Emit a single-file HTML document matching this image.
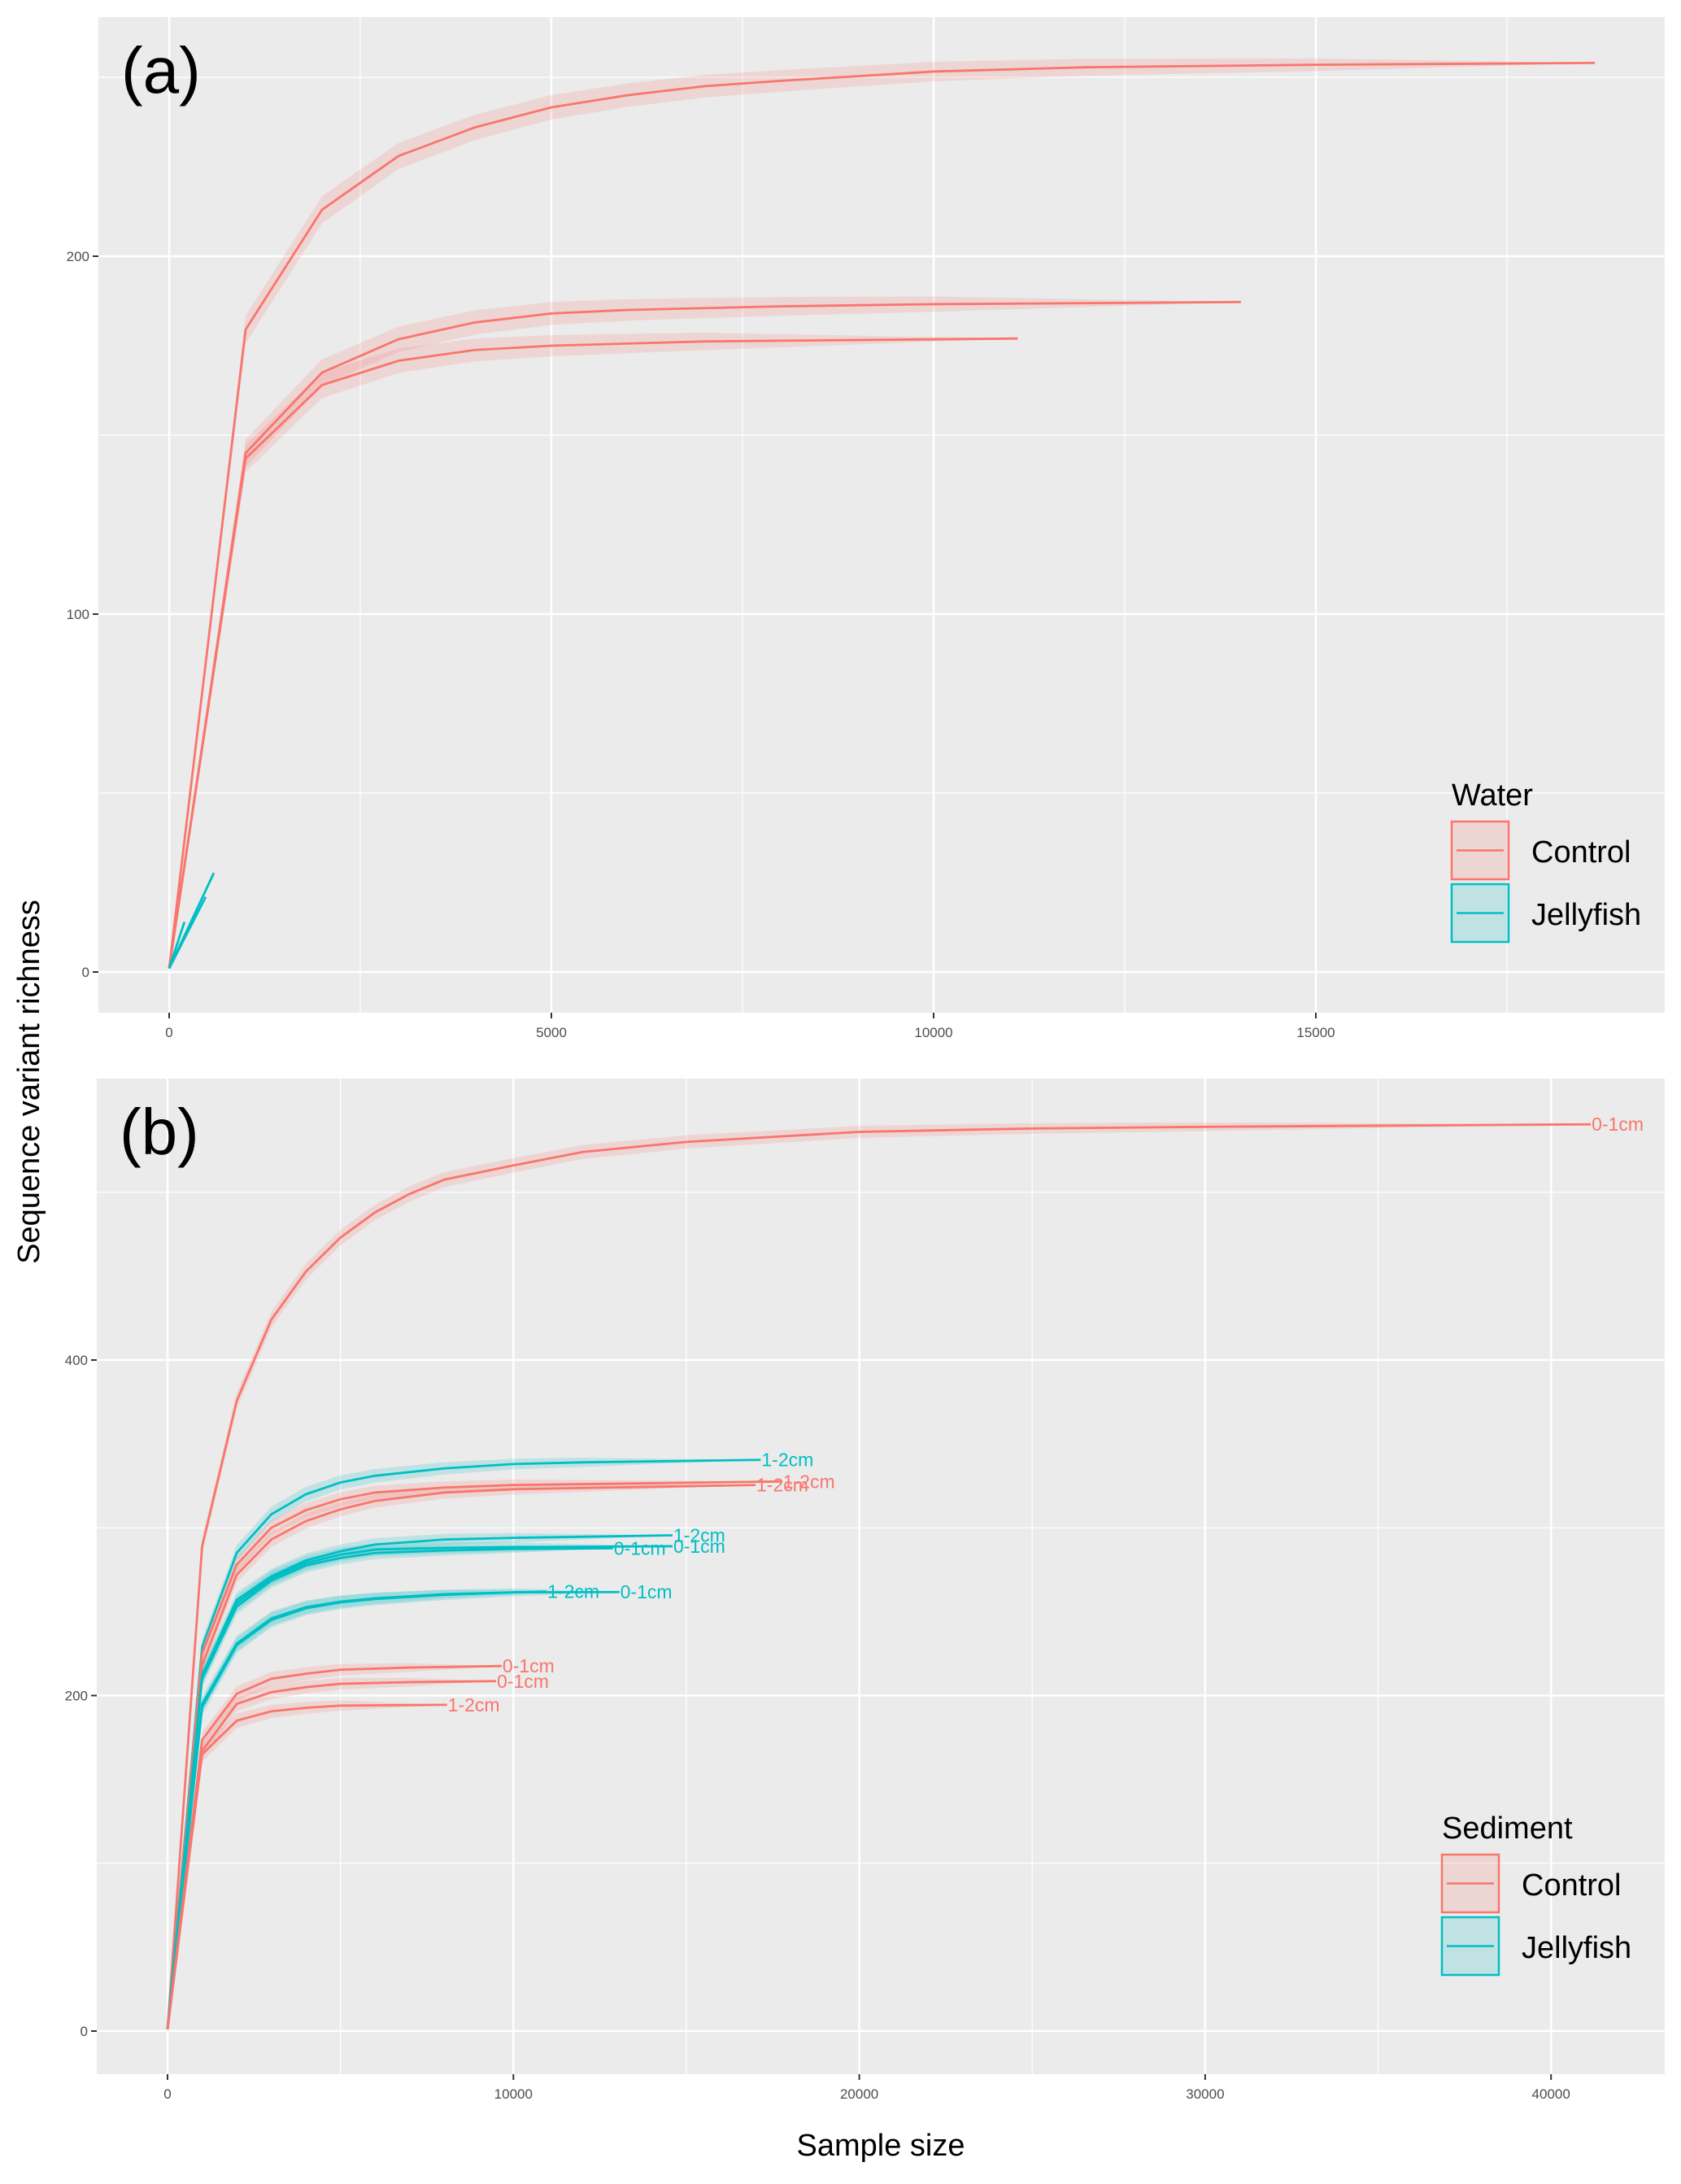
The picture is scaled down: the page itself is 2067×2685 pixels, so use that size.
<!DOCTYPE html>
<html><head><meta charset="utf-8"><style>
html,body{margin:0;padding:0;background:#fff}
svg{display:block;font-family:"Liberation Sans",sans-serif}
</style></head><body>
<svg id="chart" width="2067" height="2685" viewBox="0 0 2067 2685" xmlns="http://www.w3.org/2000/svg"></svg>
<script>
// ---- Panel (a) Water data ----
const waterGroups = ["Control","Control","Control","Jellyfish","Jellyfish","Jellyfish"];
const waterX = [
 [0,1000,2000,3000,4000,5000,6000,7000,8000,10000,12000,15000,18650],
 [0,1000,2000,3000,4000,5000,6000,8000,10000,14020],
 [0,1000,2000,3000,4000,5000,7000,11100],
 [0,585],[0,478],[0,200]
];
const waterY = [
 [1,179.5,213,228,236,241.6,245,247.5,249,251.6,252.8,253.5,254],
 [1,145,167.5,176.8,181.5,184,185,186,186.6,187.2],
 [1,143.5,164,170.8,173.8,175,176.2,177],
 [1,27.7],[1,21],[1,14]
];
// ---- Panel (b) Sediment data ----
const sedGroups = ["Control","Jellyfish","Control","Control","Jellyfish","Jellyfish","Jellyfish","Jellyfish","Jellyfish","Control","Control","Control"];
const sedLabels = ["0-1cm","1-2cm","1-2cm","1-2cm","1-2cm","0-1cm","0-1cm","1-2cm","0-1cm","0-1cm","0-1cm","1-2cm"];
const sedX = [
 [0,1000,2000,3000,4000,5000,6000,7000,8000,10000,12000,15000,20000,25000,30000,41150],
 [0,1000,2000,3000,4000,5000,6000,8000,10000,12000,17150],
 [0,1000,2000,3000,4000,5000,6000,8000,10000,17770],
 [0,1000,2000,3000,4000,5000,6000,8000,10000,17000],
 [0,1000,2000,3000,4000,5000,6000,8000,10000,14600],
 [0,1000,2000,3000,4000,5000,6000,8000,10000,12880],
 [0,1000,2000,3000,4000,5000,6000,8000,10000,14600],
 [0,1000,2000,3000,4000,5000,6000,8000,10000,10960],
 [0,1000,2000,3000,4000,5000,6000,8000,10000,13065],
 [0,1000,2000,3000,4000,5000,7000,9660],
 [0,1000,2000,3000,4000,5000,7000,9500],
 [0,1000,2000,3000,4000,5000,8080]
];
const sedY = [
 [1,289,375.6,424,452.7,473,488,499,507.5,516,524,530,536,538,539,540.5],
 [1,229,285,308,320,327,331,335.4,338,339,340.5],
 [1,225,278,300,310.5,317,321,324,325.5,327.6],
 [1,218,272,293,304,311,316,321,323,325.5],
 [1,212,257,271,280.5,286,290,293,294,295.5],
 [1,210,253,268.5,277.5,282,285,286.5,287.4,287.8],
 [1,211,255,270,279,284,287,288,288.5,289],
 [1,195,231,246,252.7,256,258,260.4,261.5,262],
 [1,193,230,245,252,255.5,257.5,260,261.5,261.7],
 [1,173.5,201,210,213,215.4,216.7,217.6],
 [1,167,195,202,205,207,208,208.6],
 [1,165,185,190.6,192.7,194,194.5]
];
const waterXTicks=[0,5000,10000,15000], waterYTicks=[0,100,200];
const sedXTicks=[0,10000,20000,30000,40000], sedYTicks=[0,200,400];

const NS="http://www.w3.org/2000/svg";
const svg=document.getElementById('chart');
const COL={Control:"#F8766D",Jellyfish:"#00BFC4"};
function mk(tag,attrs,parent){const e=document.createElementNS(NS,tag);for(const k in attrs)e.setAttribute(k,attrs[k]);(parent||svg).appendChild(e);return e;}

function panel(cfg){
  const g=mk('g',{});
  
  
  const sx=v=>cfg.x0+(v)*cfg.xs, sy=v=>cfg.y0-(v)*cfg.ys;
  const bg=mk('rect',{x:cfg.L,y:cfg.T,width:cfg.R-cfg.L,height:cfg.B-cfg.T,fill:'#EBEBEB'},g);
  
  
  for(let v=cfg.xMinorStart;sx(v)<cfg.R;v+=cfg.xStep){const X=sx(v);if(X>cfg.L)mk('line',{x1:X,x2:X,y1:cfg.T,y2:cfg.B,stroke:'#fff','stroke-width':1.2},g);}
  for(let v=cfg.yMinorStart;sy(v)>cfg.T;v+=cfg.yStep){const Y=sy(v);if(Y<cfg.B)mk('line',{x1:cfg.L,x2:cfg.R,y1:Y,y2:Y,stroke:'#fff','stroke-width':1.2},g);}
  cfg.xt.forEach(v=>{const X=sx(v);mk('line',{x1:X,x2:X,y1:cfg.T,y2:cfg.B,stroke:'#fff','stroke-width':2.5},g);
    mk('line',{x1:X,x2:X,y1:cfg.B,y2:cfg.B+7,stroke:'#333','stroke-width':2},g);
    const t=mk('text',{x:X,y:cfg.B+30,'text-anchor':'middle','font-size':17,fill:'#4D4D4D'},g);t.textContent=v;
    
    });
  cfg.yt.forEach(v=>{const Y=sy(v);mk('line',{x1:cfg.L,x2:cfg.R,y1:Y,y2:Y,stroke:'#fff','stroke-width':2.5},g);
    mk('line',{x1:cfg.L-7,x2:cfg.L,y1:Y,y2:Y,stroke:'#333','stroke-width':2},g);
    const t=mk('text',{x:cfg.L-11,y:Y+6,'text-anchor':'end','font-size':17,fill:'#4D4D4D'},g);t.textContent=v;
    
    });
  cfg.X.forEach((xs,i)=>{
    const c=COL[cfg.groups[i]];
    const xmax=xs[xs.length-1];
    const hw=(x,j)=>j==0?0:cfg.band*Math.sqrt(Math.max(0,1-x/xmax));
    const up=xs.map((x,j)=>sx(x)+','+sy(cfg.Y[i][j]+hw(x,j))).join(' ');
    const dn=xs.map((x,j)=>sx(x)+','+sy(cfg.Y[i][j]-hw(x,j))).reverse().join(' ');
    const rb=mk('polygon',{points:up+' '+dn,fill:c,'fill-opacity':0.18},g);
    
    
    const pl=mk('polyline',{points:xs.map((x,j)=>sx(x)+','+sy(cfg.Y[i][j])).join(' '),fill:'none',stroke:c,'stroke-width':2.8},g);
    
    
    if(cfg.labels){const n=xs.length-1;
      const t=mk('text',{x:sx(xs[n])+1,y:sy(cfg.Y[i][n])+8,'font-size':23,fill:c},g);t.textContent=cfg.labels[i];
      
      }
  });
  const tag=mk('text',{x:cfg.L+28,y:cfg.T+93,'font-size':80,fill:'#000'},g);tag.textContent=cfg.tag;
  
  
  const lg=mk('g',{},g);
  
  
  const lt=mk('text',{x:cfg.lx,y:cfg.ly,'font-size':38,fill:'#000'},lg);lt.textContent=cfg.legendTitle;
  
  
  ["Control","Jellyfish"].forEach((k,i)=>{
    const by=cfg.ly+20+i*77;
    const e=mk('g',{},lg);
    
    
    mk('rect',{x:cfg.lx,y:by,width:70,height:71,fill:COL[k],'fill-opacity':0.18,stroke:COL[k],'stroke-width':2.5},e);
    mk('line',{x1:cfg.lx+6,x2:cfg.lx+64,y1:by+35.5,y2:by+35.5,stroke:COL[k],'stroke-width':2.4},e);
    const t=mk('text',{x:cfg.lx+98,y:by+50,'font-size':38,fill:'#000'},e);t.textContent=k;
  });
}
panel({name:'panel-a-water',L:121,R:2047,T:21,B:1245,x0:208,xs:470/5000,y0:1195,ys:4.4,
  xt:waterXTicks,yt:waterYTicks,xMinorStart:2500,xStep:5000,yMinorStart:50,yStep:100,
  X:waterX,Y:waterY,groups:waterGroups,band:4,tag:'(a)',legendTitle:'Water',lx:1785,ly:990});
panel({name:'panel-b-sediment',L:119,R:2047,T:1326,B:2550,x0:206,xs:425.3/10000,y0:2497,ys:2.0625,
  xt:sedXTicks,yt:sedYTicks,xMinorStart:5000,xStep:10000,yMinorStart:100,yStep:200,
  X:sedX,Y:sedY,groups:sedGroups,labels:sedLabels,band:5,tag:'(b)',legendTitle:'Sediment',lx:1773,ly:2260});
const yt=mk('text',{x:0,y:0,'font-size':38,'text-anchor':'middle',fill:'#000',transform:'translate(48,1330) rotate(-90)'});
yt.textContent='Sequence variant richness';


const xt=mk('text',{x:1083,y:2650,'font-size':38,'text-anchor':'middle',fill:'#000'});
xt.textContent='Sample size';


</script>
</body></html>
